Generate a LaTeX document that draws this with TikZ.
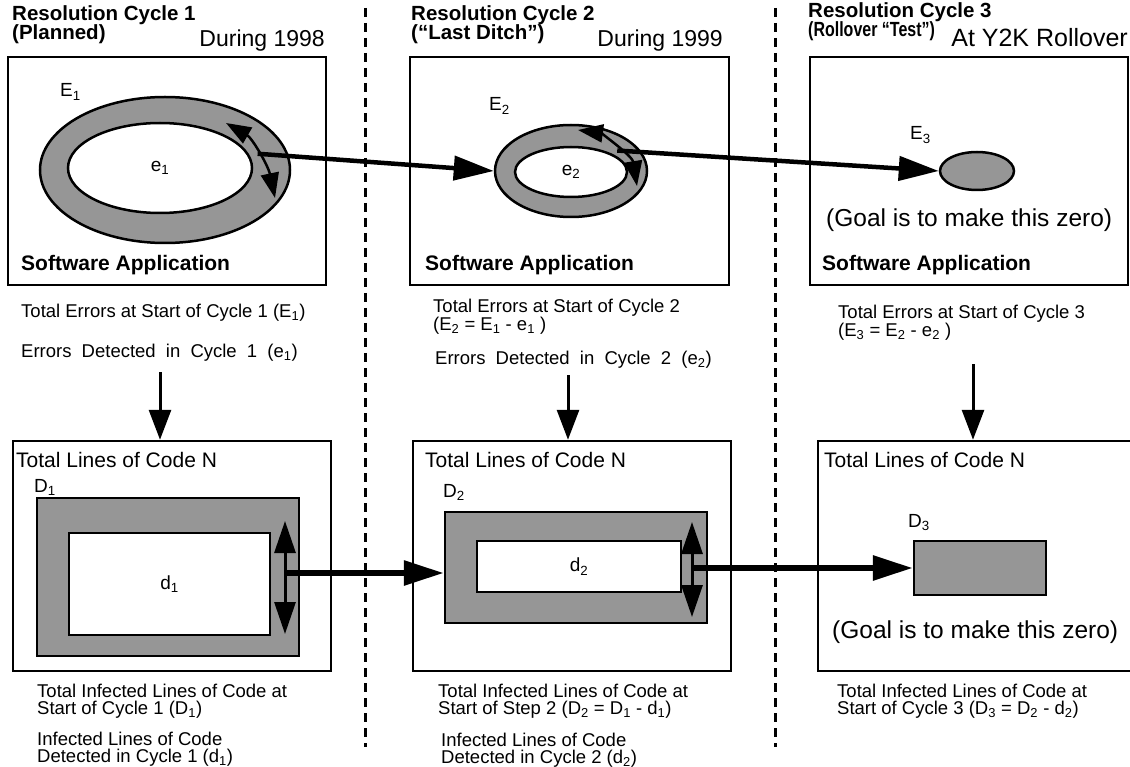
\documentclass[tikz,border=0pt]{standalone}
\usepackage{fontspec}
\setmainfont{Liberation Sans}
\usetikzlibrary{arrows.meta,shapes.geometric}
\definecolor{ringgray}{RGB}{150,150,150}
\tikzset{
  frame/.style={draw, line width=2.5pt, inner sep=0pt},
  ring/.style={ellipse, draw, line width=2.5pt, fill=ringgray, inner sep=0pt},
  hole/.style={ellipse, draw, line width=2.5pt, fill=white, inner sep=0pt, font=\fontsize{19}{19}\selectfont},
  band/.style={draw, line width=2.5pt, fill=ringgray, inner sep=0pt},
  slot/.style={draw, line width=2.5pt, fill=white, inner sep=0pt, font=\fontsize{19}{19}\selectfont},
  title/.style={anchor=base west, inner sep=0pt, font=\bfseries\fontsize{20.5}{20}\selectfont},
  when/.style={anchor=base east, inner sep=0pt, font=\fontsize{23}{23}\selectfont},
  appname/.style={anchor=base west, inner sep=0pt, font=\bfseries\fontsize{21}{21}\selectfont},
  codename/.style={anchor=base west, inner sep=0pt, font=\fontsize{21}{21}\selectfont},
  sym/.style={anchor=base west, inner sep=0pt, font=\fontsize{19}{19}\selectfont},
  goal/.style={anchor=base west, inner sep=0pt, font=\fontsize{24.5}{24}\selectfont},
  note/.style={anchor=base west, inner sep=0pt, font=\fontsize{18.5}{17.5}\selectfont},
  wide/.style={anchor=base west, inner sep=0pt, font={\fontsize{18.5}{17.5}\selectfont\spaceskip 0.55em\relax}},
  block/.style={anchor=north west, inner sep=0pt, align=left, font=\fontsize{18.5}{17}\selectfont},
  flow/.style={line width=4.5pt, -{Triangle[length=40pt,width=24pt]}},
  push/.style={line width=6pt, -{Triangle[length=40pt,width=24pt]}},
  drop/.style={line width=3pt, -{Triangle[length=30pt,width=22pt]}},
  swing/.style={line width=2.5pt, {Triangle[length=25pt,width=18pt]}-{Triangle[length=25pt,width=18pt]}},
  span/.style={line width=3pt, {Triangle[length=32pt,width=21pt]}-{Triangle[length=32pt,width=21pt]}},
  divider/.style={line width=3pt, dash pattern=on 9pt off 6pt}
}
\begin{document}
\begin{tikzpicture}[x=1pt, y=-1pt]
\useasboundingbox (0,0) rectangle (1130,767);
\draw[divider] (365,8) -- (365,747);
\draw[divider] (775,8) -- (775,747);

\node[title] (head1) at (12,21) {Resolution Cycle 1};
\node[title] (sub1) at (12,40) {(Planned)};
\node[when] (year1) at (325,47) {During 1998};
\node[title] (head2) at (411,21) {Resolution Cycle 2};
\node[title] (sub2) at (411,40) {(“Last Ditch”)};
\node[when] (year2) at (723,47) {During 1999};
\node[title] (head3) at (808,18) {Resolution Cycle 3};
\node[title] (sub3) at (808,37) {\scalebox{0.78}[1]{(Rollover “Test”)}};
\node[when, font=\fontsize{25}{25}\selectfont] (year3) at (1128,47) {At Y2K Rollover};

\node[frame, minimum width=318pt, minimum height=228pt] (app1) at (167,171) {};
\node[frame, minimum width=319pt, minimum height=228pt] (app2) at (569.5,171) {};
\node[frame, minimum width=318pt, minimum height=228pt] (app3) at (969,171) {};
\node[appname] (sw1) at (21,271) {Software Application};
\node[appname] (sw2) at (425,271) {Software Application};
\node[appname] (sw3) at (822,271) {Software Application};

\node[ring, minimum width=250pt, minimum height=146pt] (ring1) at (165,170) {};
\node[hole, minimum width=184pt, minimum height=90pt] (hole1) at (160,168) {e\textsubscript{1}};
\node[sym] (E1) at (60,97) {E\textsubscript{1}};
\node[ring, minimum width=152pt, minimum height=92pt] (ring2) at (571,171) {};
\node[hole, minimum width=112pt, minimum height=50pt] (hole2) at (571,172) {e\textsubscript{2}};
\node[sym] (E2) at (489,111) {E\textsubscript{2}};
\node[ring, minimum width=74pt, minimum height=38pt] (ring3) at (977,171) {};
\node[sym] (E3) at (910,140) {E\textsubscript{3}};
\node[goal] (zero1) at (826,227) {(Goal is to make this zero)};

\draw[swing] (226,123) .. controls (252,138) and (268,165) .. (275,198) coordinate[pos=0.5] (bend1);
\draw[swing] (578,130) .. controls (600,133) and (632,155) .. (637,186) coordinate[pos=0.55] (bend2);
\draw[flow] (bend1) -- (ring2.west);
\draw[flow] (bend2) -- (ring3.west);

\node[note] (start1) at (21,318) {Total Errors at Start of Cycle 1 (E\textsubscript{1})};
\node[wide] (found1) at (21,358) {Errors Detected in Cycle 1 (e\textsubscript{1})};
\node[block] (start2) at (433,298.5) {Total Errors at Start of Cycle 2\\(E\textsubscript{2} = E\textsubscript{1} - e\textsubscript{1} )};
\node[wide] (found2) at (435,364) {Errors Detected in Cycle 2 (e\textsubscript{2})};
\node[block] (start3) at (838,304.5) {Total Errors at Start of Cycle 3\\(E\textsubscript{3} = E\textsubscript{2} - e\textsubscript{2} )};

\node[frame, minimum width=318pt, minimum height=230pt] (code1) at (172,556) {};
\node[frame, minimum width=318pt, minimum height=230pt] (code2) at (572,556) {};
\node[frame, minimum width=318pt, minimum height=230pt] (code3) at (977,556) {};
\coordinate (drop1) at (160,372);
\coordinate (drop2) at (568,375);
\coordinate (drop3) at (973,364);
\draw[drop] (drop1) -- (drop1 |- code1.north);
\draw[drop] (drop2) -- (drop2 |- code2.north);
\draw[drop] (drop3) -- (drop3 |- code3.north);

\node[codename] (loc1) at (16,467) {Total Lines of Code N};
\node[codename] (loc2) at (425,467) {Total Lines of Code N};
\node[codename] (loc3) at (824,467) {Total Lines of Code N};
\node[sym] (D1) at (34,492) {D\textsubscript{1}};
\node[sym] (D2) at (443,497) {D\textsubscript{2}};
\node[sym] (D3) at (908,527) {D\textsubscript{3}};

\node[band, minimum width=262pt, minimum height=158pt] (band1) at (168,577) {};
\node[slot, minimum width=201pt, minimum height=102pt] (slot1) at (169.5,584) {d\textsubscript{1}};
\node[band, minimum width=262pt, minimum height=111pt] (band2) at (576,567.5) {};
\node[slot, minimum width=204pt, minimum height=51pt] (slot2) at (579,566.5) {d\textsubscript{2}};
\node[band, minimum width=132pt, minimum height=54pt] (band3) at (980,568) {};
\node[goal] (zero2) at (832,638) {(Goal is to make this zero)};

\draw[span] (285,521) -- (285,634);
\draw[span] (692,522) -- (692,617);
\coordinate (tap1) at (285,573);
\coordinate (tap2) at (692,568);
\draw[push] (tap1) -- (tap1 -| band2.west);
\draw[push] (tap2) -- (tap2 -| band3.west);

\node[block] (infect1) at (37,683.5) {Total Infected Lines of Code at\\Start of Cycle 1 (D\textsubscript{1})};
\node[block] (caught1) at (37,731.5) {Infected Lines of Code\\Detected in Cycle 1 (d\textsubscript{1})};
\node[block] (infect2) at (438,683.5) {Total Infected Lines of Code at\\Start of Step 2 (D\textsubscript{2} = D\textsubscript{1} - d\textsubscript{1})};
\node[block] (caught2) at (441,732.5) {Infected Lines of Code\\Detected in Cycle 2 (d\textsubscript{2})};
\node[block] (infect3) at (837,683.5) {Total Infected Lines of Code at\\Start of Cycle 3 (D\textsubscript{3} = D\textsubscript{2} - d\textsubscript{2})};
\end{tikzpicture}
\end{document}
